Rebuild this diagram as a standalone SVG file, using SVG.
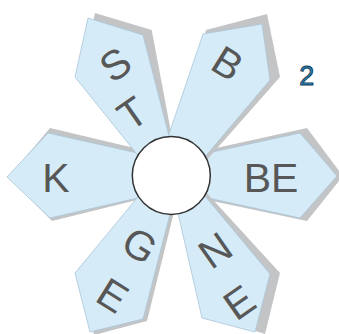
<svg xmlns="http://www.w3.org/2000/svg" width="339" height="334" viewBox="0 0 339 334">
<style>
.sh{fill:#c3c4c6;}
.pt{fill:#d5ebf8;stroke:#a9c5d8;stroke-width:0.8;stroke-linejoin:miter;}
.lb{font-family:"Liberation Sans",Arial,sans-serif;fill:#575757;text-anchor:middle;}
.big{font-size:41px;}
.rot{font-size:41px;}
</style>
<rect width="339" height="334" fill="#ffffff"/>
<g id="petal-K">
<polygon class="sh" points="9,177 50,128 145,150.6 171.5,175.5 145,198 52,221"/>
<polygon class="pt" points="7,177 48,133 142,154 171.5,175.5 142,197 50,218"/>
<text class="lb big" x="56" y="191.7">K</text>
</g>
<g id="petal-BE">
<polygon class="sh" points="343,176 307,128 198,152 171.5,175.5 198,198 307,221"/>
<polygon class="pt" points="337,176 300,133 201,154.5 171.5,175.5 201,196.5 300,218"/>
<text class="lb big" x="271" y="191.7">BE</text>
</g>
<g id="petal-ST">
<polygon class="sh" points="95,13 151.7,30 172.5,140 171.5,175.5 82,72"/>
<polygon class="pt" points="88,18 143,35 170,140 171.5,175.5 140,158 75,77"/>
<text class="lb rot" transform="translate(115,64) rotate(-35)" y="14.7">S</text>
<text class="lb rot" transform="translate(132,113) rotate(-35)" y="14.7">T</text>
</g>
<g id="petal-B">
<polygon class="sh" points="267,14 280,77 202.4,165 171.5,175.5 206,30"/>
<polygon class="pt" points="262,24 270,80 204,158 171.5,175.5 167,140 203,34"/>
<text class="lb rot" transform="translate(228,63) rotate(32)" y="14.7">B</text>
</g>
<g id="petal-NE">
<polygon class="sh" points="265,334 280,273 202.2,188 171.5,175.5 212,317"/>
<polygon class="pt" points="255,332 270,274 201.7,192 171.5,175.5 177.5,211 202,318"/>
<text class="lb rot" transform="translate(215,250) rotate(-35)" y="14.7">N</text>
<text class="lb rot" transform="translate(239,302) rotate(-35)" y="14.7">E</text>
</g>
<g id="petal-GE">
<polygon class="sh" points="94,335 147,321 174,212 171.5,175.5 79,276"/>
<polygon class="pt" points="90,332 143,319 171,210 171.5,175.5 142,192 75,273"/>
<text class="lb rot" transform="translate(140,245) rotate(32)" y="14.7">G</text>
<text class="lb rot" transform="translate(113,295) rotate(32)" y="14.7">E</text>
</g>
<g id="hub">
<circle cx="171.3" cy="175.5" r="39" fill="#ffffff" stroke="#333333" stroke-width="1.5"/>
</g>
<g id="connectors"></g>
<text id="label-2" x="306.7" y="84.5" font-family="Liberation Sans,Arial,sans-serif" font-size="27" fill="#1f86c2" stroke="#1d3b4f" stroke-width="0.9" text-anchor="middle">2</text>
</svg>
